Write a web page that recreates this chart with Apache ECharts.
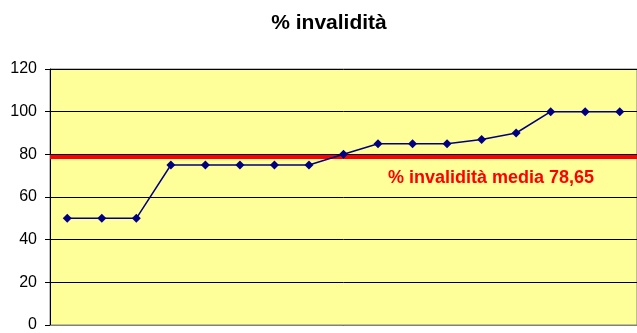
<!DOCTYPE html>
<html><head><meta charset="utf-8">
<script src="https://cdn.jsdelivr.net/npm/echarts@6/dist/echarts.min.js"></script>
<style>html,body{margin:0;padding:0;background:#fff}#c{width:637px;height:333px}</style>
</head><body><div id="c"></div>
<script>
var categories = ['1','2','3','4','5','6','7','8','9','10','11','12','13','14','15','16','17'];
var invalidita = [50,50,50,75,75,75,75,75,80,85,85,85,87,90,100,100,100];
var media = 78.65;
var mediaLabel = '% invalidità media 78,65';
var yTicks = [0,20,40,60,80,100,120];

var chart = echarts.init(document.getElementById('c'));
chart.setOption({
  animation:false,
  backgroundColor:'#ffffff',
  title:{text:'% invalidità',left:324,textAlign:'center',top:8,textStyle:{fontFamily:'Liberation Sans, Arial',fontWeight:'bold',fontSize:21,color:'#000'}},
  grid:{left:50,top:69,width:592,height:260,backgroundColor:'#FFFF99',show:true,borderWidth:1,borderColor:'#808080'},
  xAxis:{type:'category',data:categories,boundaryGap:true,
    axisLine:{show:true,lineStyle:{color:'#808080',width:1}},
    axisTick:{show:false},axisLabel:{show:false},splitLine:{show:false}},
  yAxis:{type:'value',min:yTicks[0],max:yTicks[yTicks.length-1],interval:20,
    axisLine:{show:true,lineStyle:{color:'#000',width:1}},
    axisTick:{show:true,length:5,lineStyle:{color:'#000'}},
    axisLabel:{margin:13,color:'#000',fontFamily:'Liberation Sans, Arial',fontSize:16},
    splitLine:{show:true,lineStyle:{color:'#000',width:1}}},
  series:[{type:'line',data:invalidita,symbol:'diamond',symbolSize:9,
    lineStyle:{color:'#000080',width:1.5},itemStyle:{color:'#000080'},z:3,
    markLine:{silent:true,symbol:'none',z:2,
      lineStyle:{color:'#FF0000',width:4,type:'solid'},
      label:{show:true,position:'insideEndBottom',formatter:mediaLabel,color:'#FF0000',
        fontFamily:'Liberation Sans, Arial',fontWeight:'bold',fontSize:18,distance:[43,12]},
      data:[{yAxis:media}]}},
  ]
});
</script></body></html>
